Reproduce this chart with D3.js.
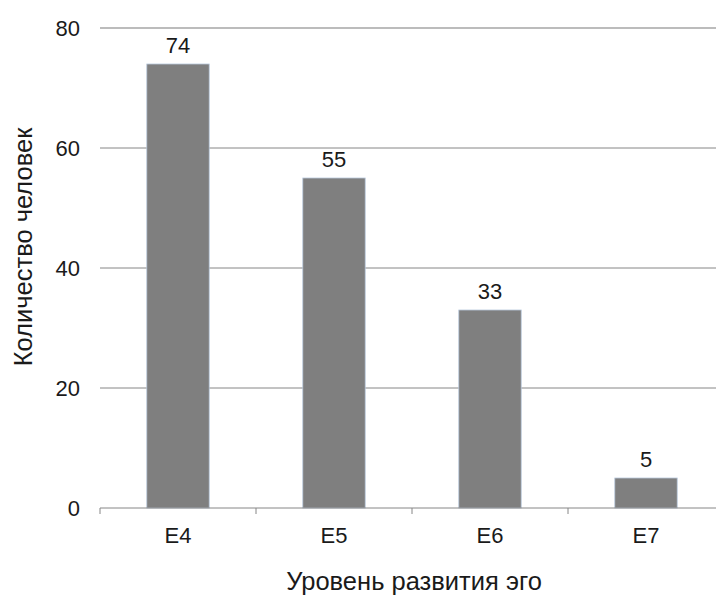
<!DOCTYPE html>
<html>
<head>
<meta charset="utf-8">
<script src="https://cdn.jsdelivr.net/npm/d3@7"></script>
<style>
body { margin: 0; background: #fff; }
text { font-family: "Liberation Sans", Arial, sans-serif; fill: #1a1a1a; }
</style>
</head>
<body>
<div id="chart"></div>
<script>
const categories = ["E4", "E5", "E6", "E7"];
const values = [74, 55, 33, 5];
const yTicks = [0, 20, 40, 60, 80];

const svgWidth = 716;
const svgHeight = 595;

const x = d3.scaleBand()
    .domain(categories)
    .range([100, 724])
    .paddingInner(0.6)
    .paddingOuter(0.3);

const xAxisBand = d3.scaleBand()
    .domain(categories)
    .range([100, 724]);

const y = d3.scaleLinear()
    .domain([0, 80])
    .range([508, 28]);

const svg = d3.select("#chart").append("svg")
    .attr("width", svgWidth)
    .attr("height", svgHeight);

// gridlines
svg.append("g")
    .selectAll("line")
    .data(yTicks.filter(d => d > 0))
    .enter()
    .append("line")
    .attr("x1", 100)
    .attr("x2", 716)
    .attr("y1", d => y(d))
    .attr("y2", d => y(d))
    .attr("stroke", d => d === 80 ? "#a6a6a6" : "#868686")
    .attr("stroke-width", d => d === 80 ? 1.6 : 1);

// y tick labels
svg.append("g")
    .selectAll("text")
    .data(yTicks)
    .enter()
    .append("text")
    .attr("x", 80)
    .attr("y", d => y(d))
    .attr("dy", "0.36em")
    .attr("text-anchor", "end")
    .style("font-size", "22px")
    .text(d => d);

// bars
svg.append("g")
    .selectAll("rect")
    .data(values)
    .enter()
    .append("rect")
    .attr("x", (d, i) => x(categories[i]))
    .attr("y", d => y(d))
    .attr("width", x.bandwidth())
    .attr("height", d => y(0) - y(d))
    .attr("fill", "#7f7f7f")
    .attr("stroke", "#b8c8dc")
    .attr("stroke-width", 0.8);

// x axis
const xAxis = svg.append("g")
    .attr("transform", `translate(0, ${y(0)})`)
    .call(d3.axisBottom(xAxisBand).tickSize(0).tickFormat(""));
xAxis.select(".domain").attr("stroke", "#868686").attr("d", "M100,0H716");

svg.append("g")
    .selectAll("line")
    .data(categories)
    .enter()
    .append("line")
    .attr("x1", d => xAxisBand(d))
    .attr("x2", d => xAxisBand(d))
    .attr("y1", y(0))
    .attr("y2", y(0) + 6)
    .attr("stroke", "#868686");

svg.append("g")
    .selectAll("text")
    .data(categories)
    .enter()
    .append("text")
    .attr("x", d => xAxisBand(d) + xAxisBand.bandwidth() / 2)
    .attr("y", 543)
    .attr("text-anchor", "middle")
    .style("font-size", "22px")
    .text(d => d);

// value labels
svg.append("g")
    .selectAll("text")
    .data(values)
    .enter()
    .append("text")
    .attr("x", (d, i) => x(categories[i]) + x.bandwidth() / 2)
    .attr("y", d => y(d) - 11)
    .attr("text-anchor", "middle")
    .style("font-size", "22px")
    .text(d => d);

// axis titles
svg.append("text")
    .attr("x", 414)
    .attr("y", 590)
    .attr("text-anchor", "middle")
    .style("font-size", "25.5px")
    .text("Уровень развития эго");

svg.append("text")
    .attr("transform", "translate(32, 247) rotate(-90)")
    .attr("text-anchor", "middle")
    .style("font-size", "25.5px")
    .text("Количество человек");
</script>
</body>
</html>
